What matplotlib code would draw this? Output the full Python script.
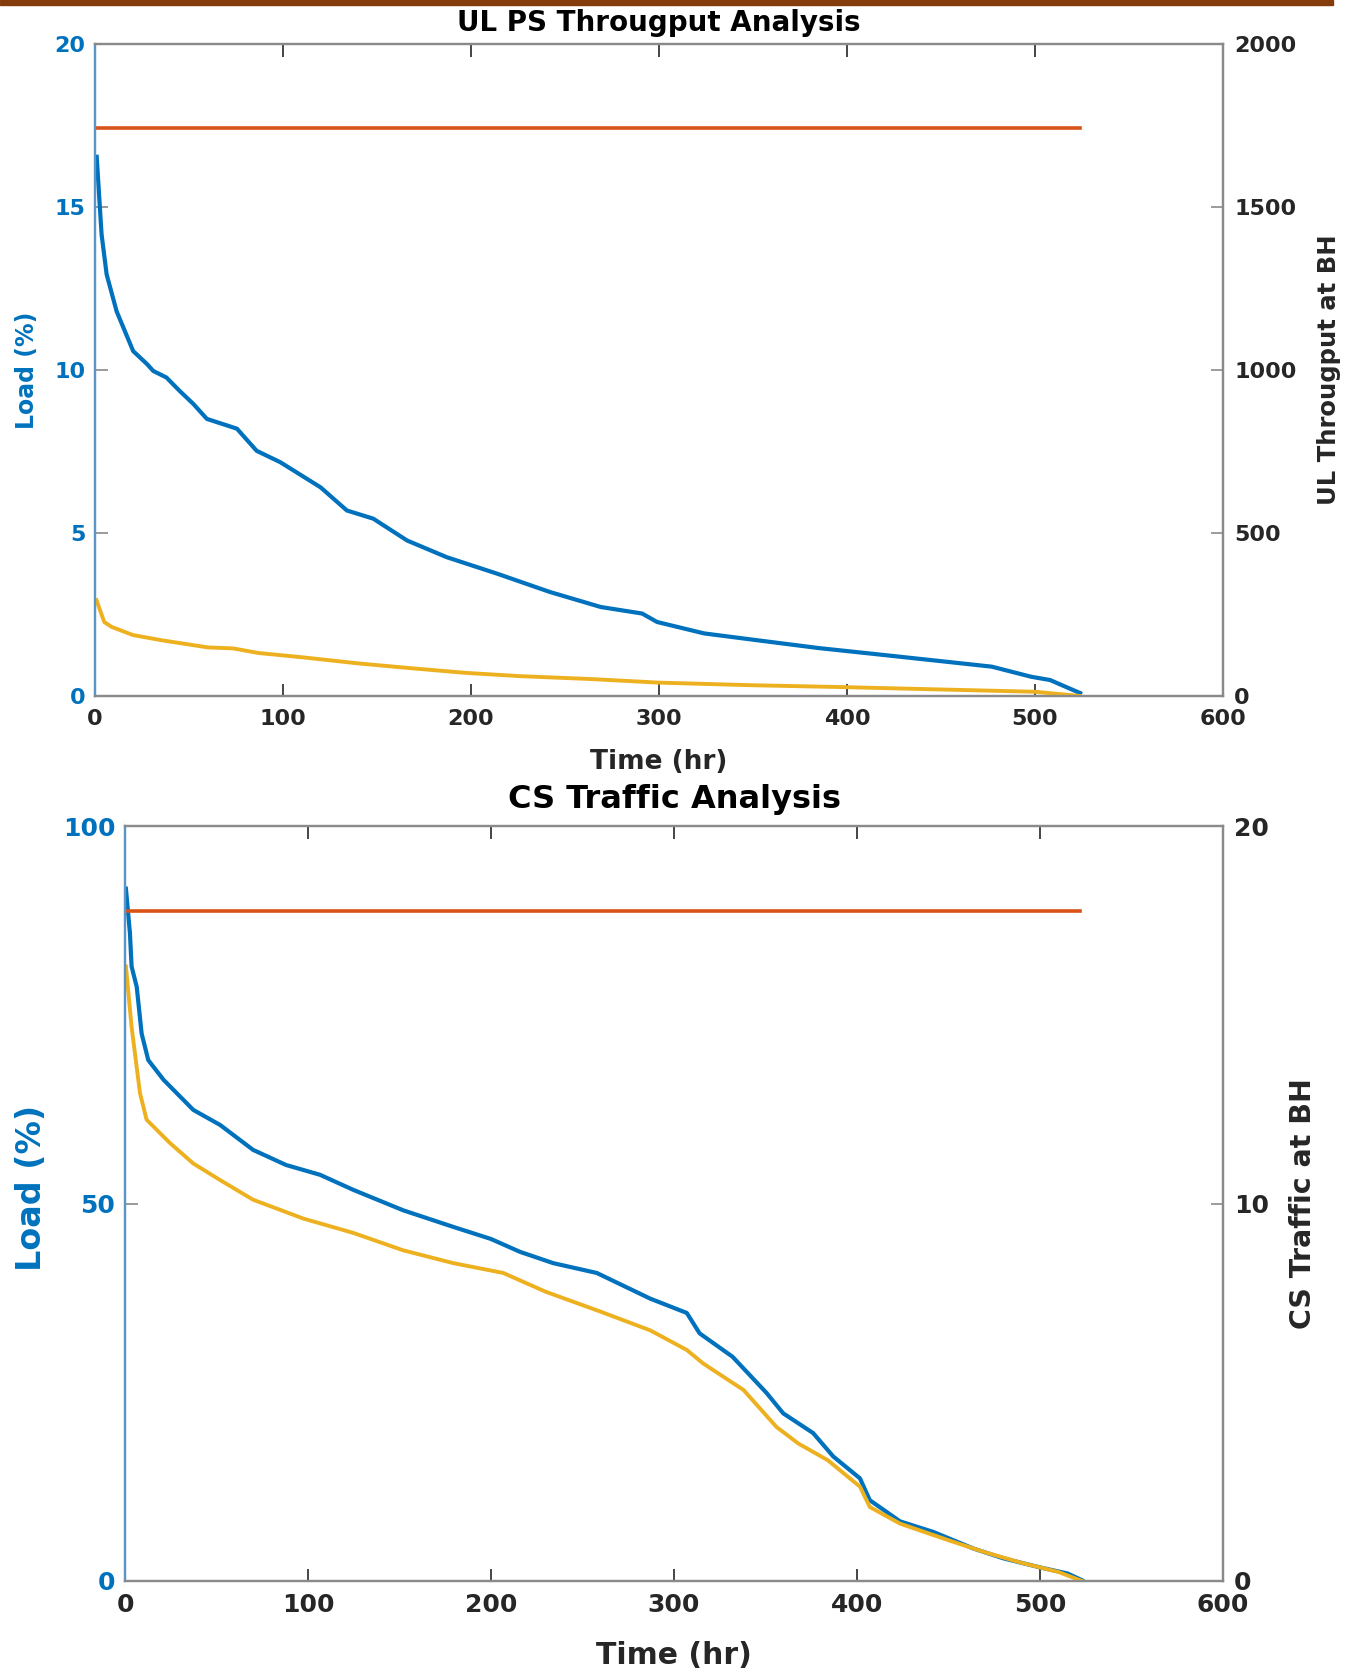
import matplotlib
matplotlib.use("Agg")
import matplotlib.pyplot as plt
from matplotlib.patches import Rectangle

# ---------------- data ----------------
# Top panel: UL PS throughput analysis
ul_load_hr = [0.9, 3.5, 6.2, 11.5, 20.3, 27.7, 31, 38, 45, 52.3, 59.5, 75.5, 86, 98.6, 120, 134,
              148, 166, 187, 214, 242, 269, 291, 299, 324, 355, 385, 416, 453, 477, 498, 508, 524]
ul_load_pct = [16.54, 14.16, 12.93, 11.8, 10.58, 10.18, 9.97, 9.77, 9.36, 8.96, 8.5, 8.2, 7.52,
               7.17, 6.4, 5.69, 5.44, 4.77, 4.26, 3.75, 3.19, 2.73, 2.53, 2.27, 1.92, 1.69, 1.47,
               1.28, 1.05, 0.9, 0.59, 0.49, 0.09]
ul_thr_hr = [0.8, 4.9, 8.8, 20.2, 35.4, 60.1, 73.5, 86.8, 111.5, 140, 168.6, 197, 225.7, 263.7,
             300, 350, 400, 450, 500, 524]
ul_thr = [294, 227, 212, 187, 171, 149, 146, 132, 118, 100, 85, 71, 61, 52, 41, 33, 27, 20, 13, 0]
ul_cap_hr = [0, 524]
ul_cap = [1741, 1741]

# Bottom panel: CS traffic analysis
cs_load_hr = [0.5, 2.7, 3.6, 6.4, 9.1, 12.7, 21, 37.3, 52, 70, 88, 106.6, 124.8, 152, 179.4,
              200, 215.8, 234, 257.8, 287, 307, 314, 332, 350.6, 359.7, 376, 387, 401.6, 407,
              423.5, 441.7, 463.6, 480, 500, 515, 523]
cs_load_pct = [91.7, 85.8, 81.4, 78.7, 72.5, 69.0, 66.4, 62.4, 60.4, 57.1, 55.1, 53.8, 51.8, 49.1,
               46.9, 45.3, 43.6, 42.1, 40.8, 37.4, 35.5, 32.8, 29.7, 24.9, 22.2, 19.6, 16.5, 13.6,
               10.7, 7.9, 6.5, 4.3, 3.0, 1.8, 1.0, 0.1]
cs_traf_hr = [0.5, 3.6, 8.2, 11.8, 24.6, 37.3, 52, 70, 97.5, 124.8, 152, 179.4, 206.7, 230, 259.6,
              287, 307, 316, 338, 356, 368, 384, 401.6, 407, 423.5, 450, 470, 490, 510, 523]
cs_traf = [16.28, 14.68, 12.92, 12.22, 11.6, 11.06, 10.62, 10.1, 9.6, 9.22, 8.76, 8.42, 8.16, 7.66,
           7.14, 6.64, 6.12, 5.76, 5.06, 4.08, 3.64, 3.2, 2.5, 1.96, 1.52, 1.08, 0.76, 0.48, 0.24, 0]
cs_cap_hr = [0, 522]
cs_cap = [17.75, 17.75]

x_ticks = [0, 100, 200, 300, 400, 500, 600]
top_left_ticks = [0, 5, 10, 15, 20]
top_right_ticks = [0, 500, 1000, 1500, 2000]
bot_left_ticks = [0, 50, 100]
bot_right_ticks = [0, 10, 20]

# ---------------- style ----------------
BLUE = "#0072BD"
ORANGE = "#D95319"
YELLOW = "#EDB120"
DARK = "#262626"
SPINE = "#8a8a8a"
LEFTSPINE = "#5b95c8"

plt.rcParams["font.family"] = ["DejaVu Sans"]
plt.rcParams["font.weight"] = "bold"

W, H = 1366, 1677
fig = plt.figure(figsize=(W / 100, H / 100), dpi=100)
fig.patch.set_facecolor("white")
fig.add_artist(Rectangle((0, 1 - 5 / H), 1333 / W, 5 / H, transform=fig.transFigure,
                         color="#843c0c", zorder=10))


def make_panel(rect, xlabel_y, title, title_y, left_lab, left_lab_x, left_lab_y, right_lab,
               right_lab_x, tick_fs, lab_fs, xlab_fs, title_fs, right_fs, lticks, rticks,
               rmax, lmax):
    ax = fig.add_axes(rect)
    ax2 = ax.twinx()
    ax.set_xlim(0, 600)
    ax.set_ylim(0, lmax)
    ax2.set_ylim(0, rmax)
    ax.set_xticks(x_ticks)
    ax.set_yticks(lticks)
    ax2.set_yticks(rticks)
    for a in (ax, ax2):
        for s in a.spines.values():
            s.set_color(SPINE)
            s.set_linewidth(1.6)
    ax.spines["left"].set_color(LEFTSPINE)
    ax2.spines["left"].set_color(LEFTSPINE)
    ax.tick_params(axis="x", direction="in", top=True, length=9, width=1.2, color=DARK,
                   labelsize=tick_fs, labelcolor=DARK, pad=9)
    ax.tick_params(axis="y", direction="in", length=9, width=1.2, color=SPINE,
                   labelsize=tick_fs, labelcolor=BLUE, pad=7)
    ax2.tick_params(axis="y", direction="in", length=9, width=1.2, color=SPINE,
                    labelsize=tick_fs, labelcolor=DARK, pad=8)
    ax.set_xlabel("Time (hr)", fontsize=xlab_fs, fontweight="bold", color=DARK, va="center")
    ax.xaxis.set_label_coords(0.5, xlabel_y)
    ax.set_ylabel(left_lab, fontsize=lab_fs, fontweight="bold", color=BLUE, va="center")
    ax.yaxis.set_label_coords(left_lab_x, left_lab_y)
    ax2.set_ylabel(right_lab, fontsize=right_fs, fontweight="bold", color=DARK, va="center",
                   rotation=90)
    ax2.yaxis.set_label_coords(right_lab_x, 0.5)
    ax.set_title(title, fontsize=title_fs, fontweight="bold", color="black", y=title_y,
                 va="center", pad=0)
    return ax, ax2


# Top panel
ax, ax2 = make_panel([95 / W, 1 - 696 / H, 1128 / W, 652 / H], -0.101,
                     "UL PS Througput Analysis", 1.032,
                     "Load (%)", -0.060, 0.5, "UL Througput at BH", 1.094,
                     16, 17, 19, 20, 17.5, top_left_ticks, top_right_ticks, 2000, 20)
ax.plot(ul_load_hr, ul_load_pct, color=BLUE, lw=3.0, solid_joinstyle="round")
ax2.plot(ul_cap_hr, ul_cap, color=ORANGE, lw=2.6)
ax2.plot(ul_thr_hr, ul_thr, color=YELLOW, lw=2.8, solid_joinstyle="round")

# Bottom panel
bx, bx2 = make_panel([125 / W, 1 - 1581 / H, 1098 / W, 755 / H], -0.099,
                     "CS Traffic Analysis", 1.035,
                     "Load (%)", -0.085, 0.52, "CS Traffic at BH", 1.073,
                     18, 24, 21.5, 23, 20.5, bot_left_ticks, bot_right_ticks, 20, 100)
bx.plot(cs_load_hr, cs_load_pct, color=BLUE, lw=3.0, solid_joinstyle="round")
bx2.plot(cs_cap_hr, cs_cap, color=ORANGE, lw=2.6)
bx2.plot(cs_traf_hr, cs_traf, color=YELLOW, lw=2.8, solid_joinstyle="round")

fig.savefig("out.png", dpi=100, facecolor="white")
